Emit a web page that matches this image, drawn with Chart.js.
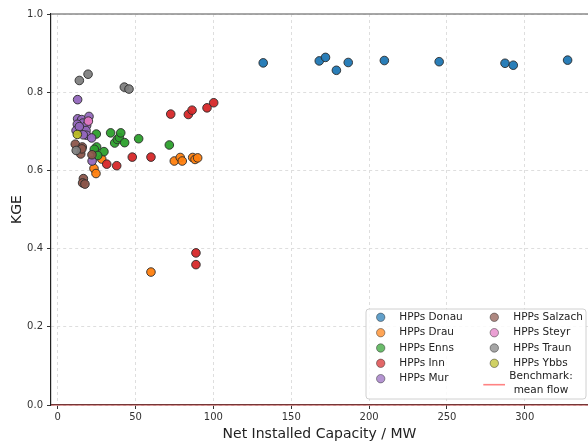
<!DOCTYPE html>
<html>
<head>
<meta charset="utf-8">
<script src="https://cdn.jsdelivr.net/npm/chart.js@4/dist/chart.umd.min.js"></script>
<style>
  html, body { margin: 0; padding: 0; background: #fff; }
  #wrap { width: 588px; height: 443px; position: relative; }
</style>
</head>
<body>
<div id="wrap"><canvas id="chart"></canvas></div>
<script>
// [net installed capacity MW, KGE]
const donau = [[132, 0.875], [168, 0.880], [172, 0.889], [179, 0.856], [186.6, 0.876], [209.8, 0.881], [245, 0.878], [287.3, 0.874], [292.6, 0.869], [327.5, 0.882]];
const drau = [[23.3, 0.605], [24.6, 0.592], [28.3, 0.629], [59.9, 0.340], [74.9, 0.624], [78.7, 0.633], [80, 0.624], [86.7, 0.633], [88.2, 0.628], [89.9, 0.632]];
const enns = [[24.8, 0.693], [34, 0.696], [25, 0.660], [23.5, 0.654], [29.7, 0.648], [25.7, 0.638], [36.6, 0.670], [38.3, 0.679], [39.6, 0.684], [40.5, 0.696], [43, 0.671], [52, 0.681], [71.7, 0.665]];
const inn = [[31.5, 0.616], [37.9, 0.612], [47.9, 0.634], [59.9, 0.634], [72.6, 0.744], [83.9, 0.743], [86.3, 0.754], [95.9, 0.760], [100.2, 0.773], [88.8, 0.389], [88.8, 0.359]];
const mur = [[12.8, 0.781], [12.8, 0.732], [15.4, 0.730], [20.1, 0.738], [16.2, 0.721], [12.6, 0.718], [18.6, 0.715], [11.8, 0.702], [15.2, 0.702], [18.2, 0.702], [18.6, 0.690], [16.4, 0.691], [21.8, 0.683], [22.1, 0.624], [13.9, 0.712]];
const salzach = [[11.3, 0.667], [15.8, 0.660], [14.8, 0.642], [22, 0.640], [16.5, 0.579], [16, 0.568], [17.5, 0.565], [15.5, 0.655]];
const steyr = [[19.7, 0.726]];
const traun = [[13.9, 0.830], [19.5, 0.846], [42.8, 0.813], [45.8, 0.808], [11.9, 0.651]];
const ybbs = [[12.6, 0.692]];

const seriesNames = ['HPPs Donau', 'HPPs Drau', 'HPPs Enns', 'HPPs Inn', 'HPPs Mur', 'HPPs Salzach', 'HPPs Steyr', 'HPPs Traun', 'HPPs Ybbs'];
const seriesData = [donau, drau, enns, inn, mur, salzach, steyr, traun, ybbs];
const seriesColors = ['#1f77b4', '#ff7f0e', '#2ca02c', '#d62728', '#9467bd', '#8c564b', '#e377c2', '#7f7f7f', '#bcbd22'];

const benchmarkLabel = ['Benchmark:', 'mean flow'];
const benchmarkKGE = 0;

const xTicks = [0, 50, 100, 150, 200, 250, 300];
const yTicks = [0, 0.2, 0.4, 0.6, 0.8, 1.0];
const xMin = -4.3, xMax = 340.6;

Chart.defaults.font.family = 'DejaVu Sans';
Chart.defaults.color = '#333';

function hexA(hex, a) {
    const n = parseInt(hex.slice(1), 16);
    return `rgba(${n >> 16}, ${(n >> 8) & 255}, ${n & 255}, ${a})`;
}

const datasets = seriesData.map((pts, i) => ({
    type: 'scatter',
    label: seriesNames[i],
    data: pts.map(p => ({ x: p[0], y: p[1] })),
    backgroundColor: hexA(seriesColors[i], 0.95),
    borderColor: '#2b2b2b',
    borderWidth: 0.9,
    pointRadius: 4.3,
    pointHoverRadius: 4.3,
    order: seriesData.length - i,
}));

datasets.push({
    type: 'line',
    label: benchmarkLabel.join(' '),
    data: [{ x: xMin, y: benchmarkKGE }, { x: xMax, y: benchmarkKGE }],
    borderColor: 'rgba(255, 90, 90, 0.5)',
    borderWidth: 1.6,
    pointRadius: 0,
    clip: false,
    order: 0,
});

// matplotlib-style legend box inside the axes + grey top spine
const overlay = {
    id: 'overlay',
    afterDraw(chart) {
        const ctx = chart.ctx;
        const a = chart.chartArea;
        ctx.save();
        ctx.strokeStyle = '#8a8a8a';
        ctx.lineWidth = 1.3;
        ctx.beginPath();
        ctx.moveTo(a.left, a.top);
        ctx.lineTo(a.right, a.top);
        ctx.stroke();

        const bx = 366, by = 309, bw = 220, bh = 90, r = 3;
        ctx.beginPath();
        ctx.roundRect(bx, by, bw, bh, r);
        ctx.fillStyle = 'rgba(255,255,255,0.85)';
        ctx.fill();
        ctx.strokeStyle = '#d0d0d0';
        ctx.lineWidth = 1;
        ctx.stroke();

        ctx.font = '10.5px "DejaVu Sans"';
        ctx.fillStyle = '#222';
        ctx.textBaseline = 'middle';
        const rowY = [317.3, 332.7, 348, 363.3, 378.7];
        const cols = [{ mx: 380.7, tx: 399.3 }, { mx: 494.3, tx: 513.3 }];
        seriesNames.forEach((name, i) => {
            const c = cols[i < 5 ? 0 : 1];
            const y = rowY[i < 5 ? i : i - 5];
            ctx.beginPath();
            ctx.arc(c.mx, y, 4.2, 0, Math.PI * 2);
            ctx.fillStyle = hexA(seriesColors[i], 0.7);
            ctx.fill();
            ctx.strokeStyle = 'rgba(40,40,40,0.6)';
            ctx.lineWidth = 0.8;
            ctx.stroke();
            ctx.fillStyle = '#222';
            ctx.textAlign = 'left';
            ctx.fillText(name, c.tx, y);
        });
        // benchmark entry
        ctx.strokeStyle = 'rgba(255, 90, 90, 0.75)';
        ctx.lineWidth = 1.6;
        ctx.beginPath();
        ctx.moveTo(483.3, 384.7);
        ctx.lineTo(505, 384.7);
        ctx.stroke();
        ctx.fillStyle = '#222';
        ctx.textAlign = 'center';
        ctx.fillText(benchmarkLabel[0], 541, 376.5);
        ctx.fillText(benchmarkLabel[1], 541, 390);
        ctx.restore();
    }
};

new Chart(document.getElementById('chart'), {
    data: { datasets },
    options: {
        responsive: true,
        maintainAspectRatio: false,
        animation: false,
        events: [],
        layout: { autoPadding: false, padding: { top: 14, right: 0, left: 0, bottom: 0 } },
        plugins: {
            legend: { display: false },
            tooltip: { enabled: false },
        },
        scales: {
            x: {
                type: 'linear',
                min: xMin,
                max: xMax,
                afterBuildTicks: s => { s.ticks = xTicks.map(v => ({ value: v })); },
                afterFit: s => { s.height = 38; s.paddingLeft = 0; s.paddingRight = 0; },
                grid: { color: '#dedede', lineWidth: 1, tickColor: '#333', tickLength: 4, tickWidth: 1 },
                border: { display: true, color: '#222', width: 1.2, dash: [3, 3] },
                ticks: { font: { size: 10 }, color: '#333', padding: 2, maxRotation: 0 },
                title: { display: true, text: 'Net Installed Capacity / MW', font: { size: 14 }, color: '#222', padding: { top: 0, bottom: 0 } },
            },
            y: {
                type: 'linear',
                min: 0,
                max: 1,
                afterBuildTicks: s => { s.ticks = yTicks.map(v => ({ value: v })); },
                afterFit: s => { s.width = 51; s.paddingTop = 0; s.paddingBottom = 0; },
                grid: { color: '#dedede', lineWidth: 1, tickColor: '#333', tickLength: 4, tickWidth: 1 },
                border: { display: true, color: '#222', width: 1.2, dash: [3, 3] },
                ticks: { font: { size: 10 }, color: '#333', padding: 4, callback: v => v.toFixed(1) },
                title: { display: true, text: 'KGE', font: { size: 14 }, color: '#222', padding: { top: 9, bottom: 0 } },
            },
        },
    },
    plugins: [overlay],
});
</script>
</body>
</html>
